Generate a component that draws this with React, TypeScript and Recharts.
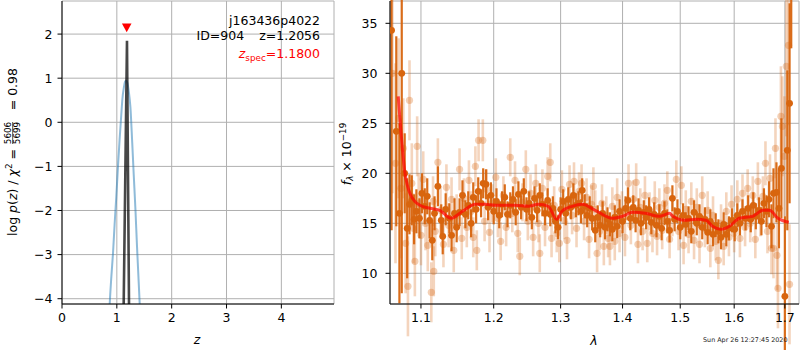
import React from 'react';
import { ComposedChart, Line, Scatter, XAxis, YAxis, CartesianGrid, ErrorBar, ReferenceArea } from 'recharts';

const FONT = 'DejaVu Sans, Verdana, sans-serif';
const ORANGE = '#d8650e';

// ---- left panel: log p(z)
const pzZ = [0.84, 0.87, 0.9, 0.93, 0.96, 0.99, 1.02, 1.05, 1.08, 1.1, 1.13, 1.15, 1.17, 1.19, 1.22, 1.247, 1.28, 1.307, 1.34, 1.368, 1.39, 1.417, 1.44];
const pzLog = [-5.0, -4.12, -3.5, -2.97, -2.3, -1.69, -1.02, -0.4, 0.15, 0.51, 0.8, 0.92, 0.95, 0.9, 0.68, 0.35, -0.45, -1.16, -2.0, -2.82, -3.4, -4.12, -4.8];
const chiZ = [1.118, 1.185, 1.226];
const chiLog = [-4.8, 1.85, -4.8];
const zSpecZ = [1.18];
const zSpecY = [2.14];
const zTicks = [0, 1, 2, 3, 4];
const pzTicks = [-4, -3, -2, -1, 0, 1, 2];

// ---- right panel: spectrum
const lamTicks = [1.1, 1.2, 1.3, 1.4, 1.5, 1.6, 1.7];
const fluxTicks = [10, 15, 20, 25, 30, 35];
const modelLam = [1.0705, 1.0792, 1.0856, 1.0987, 1.1119, 1.125, 1.1405, 1.156, 1.174, 1.188, 1.202, 1.231, 1.251, 1.266, 1.281, 1.294, 1.302, 1.318, 1.334, 1.355, 1.383, 1.4, 1.417, 1.439, 1.463, 1.481, 1.487, 1.508, 1.529, 1.547, 1.559, 1.575, 1.591, 1.61, 1.636, 1.656, 1.669, 1.686, 1.708];
const modelFlux = [27.7, 20.0, 18.0, 16.8, 16.5, 16.3, 15.5, 16.2, 16.9, 16.9, 16.8, 16.8, 16.7, 16.9, 16.7, 15.4, 16.2, 16.7, 16.9, 16.3, 15.5, 15.7, 16.1, 16.0, 15.7, 16.0, 15.7, 15.3, 15.4, 15.3, 14.7, 14.4, 14.7, 15.5, 15.7, 16.3, 16.3, 15.5, 15.1];

// [lambda, flux, error]
const darkSpec: number[][] = [
  [1.062, 34.3, 20], [1.068, 24.2, 9.5], [1.072, 16.0, 9], [1.075, 30.0, 22], [1.0788, 20.0, 4], [1.082, 14.5, 5],
  [1.085, 16.9, 3], [1.088, 17.3, 2.5], [1.091, 15.4, 2.5], [1.094, 16.2, 2.2], [1.098, 15.5, 2], [1.1013, 18.0, 2],
  [1.105, 16.7, 1.8], [1.1083, 17.7, 1.8], [1.1115, 15.3, 1.8], [1.115, 13.3, 2], [1.118, 16.0, 1.7], [1.1225, 18.7, 2],
  [1.127, 15.3, 1.6], [1.129, 13.7, 1.8], [1.133, 16.4, 1.6], [1.138, 15.5, 1.5], [1.141, 13.8, 1.6], [1.145, 16.0, 1.5],
  [1.148, 14.6, 1.5], [1.152, 16.1, 1.4], [1.156, 17.8, 1.5], [1.16, 15.9, 1.4], [1.164, 16.8, 1.4], [1.168, 15.0, 1.4],
  [1.171, 17.6, 1.5], [1.175, 16.4, 1.4], [1.178, 18.2, 1.4], [1.182, 17.0, 1.4], [1.185, 19.0, 1.5], [1.189, 18.9, 1.5],
  [1.192, 16.6, 1.3], [1.196, 17.8, 1.3], [1.2, 16.2, 1.3], [1.204, 17.2, 1.3], [1.208, 15.8, 1.3], [1.212, 16.9, 1.3],
  [1.216, 17.6, 1.3], [1.22, 15.9, 1.3], [1.224, 16.8, 1.3], [1.228, 17.4, 1.3], [1.232, 16.1, 1.3], [1.236, 17.9, 1.3],
  [1.24, 16.6, 1.2], [1.244, 18.2, 1.3], [1.248, 16.4, 1.2], [1.252, 17.0, 1.2], [1.256, 15.6, 1.2], [1.26, 17.5, 1.2],
  [1.264, 16.3, 1.2], [1.268, 17.8, 1.2], [1.272, 16.9, 1.2], [1.276, 16.0, 1.2], [1.28, 17.3, 1.2], [1.284, 15.9, 1.2],
  [1.288, 16.5, 1.2], [1.292, 15.2, 1.2], [1.296, 14.6, 1.2], [1.3, 16.4, 1.2], [1.304, 17.2, 1.2], [1.308, 16.0, 1.2],
  [1.312, 17.4, 1.2], [1.316, 16.6, 1.2], [1.32, 17.8, 1.2], [1.324, 16.8, 1.2], [1.328, 17.0, 1.2], [1.332, 16.2, 1.2],
  [1.334, 18.3, 1.2], [1.338, 16.7, 1.2], [1.342, 15.8, 1.2], [1.346, 16.5, 1.2], [1.35, 15.5, 1.2], [1.355, 14.3, 1.2],
  [1.359, 15.6, 1.2], [1.363, 14.8, 1.2], [1.367, 16.0, 1.2], [1.371, 14.6, 1.2], [1.375, 15.4, 1.2], [1.379, 14.9, 1.2],
  [1.383, 14.4, 1.2], [1.387, 15.6, 1.2], [1.391, 14.7, 1.2], [1.395, 16.2, 1.2], [1.4, 15.2, 1.2], [1.405, 16.5, 1.2],
  [1.409, 17.3, 1.3], [1.413, 15.5, 1.2], [1.418, 16.6, 1.2], [1.422, 15.3, 1.2], [1.427, 16.3, 1.2], [1.431, 15.0, 1.2],
  [1.436, 16.1, 1.2], [1.44, 15.6, 1.2], [1.445, 16.4, 1.2], [1.449, 15.1, 1.2], [1.454, 15.9, 1.2], [1.458, 14.8, 1.2],
  [1.463, 15.7, 1.2], [1.467, 14.5, 1.2], [1.472, 16.0, 1.2], [1.477, 15.2, 1.2], [1.481, 14.3, 1.2], [1.486, 17.5, 1.3],
  [1.49, 15.4, 1.2], [1.495, 16.2, 1.2], [1.5, 14.6, 1.2], [1.505, 15.8, 1.2], [1.51, 14.9, 1.2], [1.515, 15.5, 1.2],
  [1.52, 14.2, 1.2], [1.525, 16.1, 1.2], [1.53, 15.0, 1.2], [1.535, 15.7, 1.2], [1.54, 14.6, 1.2], [1.545, 15.4, 1.2],
  [1.55, 14.1, 1.2], [1.555, 15.2, 1.2], [1.56, 13.9, 1.2], [1.565, 14.8, 1.2], [1.57, 14.2, 1.2], [1.575, 13.6, 1.2],
  [1.58, 14.9, 1.2], [1.585, 13.9, 1.2], [1.59, 14.5, 1.2], [1.596, 15.3, 1.2], [1.601, 14.4, 1.2], [1.606, 15.8, 1.2],
  [1.611, 15.0, 1.2], [1.616, 16.2, 1.2], [1.622, 15.5, 1.2], [1.627, 16.5, 1.3], [1.632, 15.4, 1.3], [1.637, 16.8, 1.3],
  [1.642, 15.7, 1.3], [1.648, 16.3, 1.3], [1.653, 15.2, 1.4], [1.658, 17.0, 1.5], [1.663, 16.2, 1.6], [1.668, 17.4, 1.8],
  [1.673, 14.7, 2.2], [1.677, 18.0, 2.5], [1.683, 18.1, 3], [1.688, 16.5, 4], [1.693, 20.5, 5], [1.7, 7.7, 8],
  [1.705, 22.3, 8], [1.7096, 27.0, 10], [1.713, 38.5, 6],
];

const lightSpec: number[][] = [
  [1.063, 30, 12], [1.067, 21, 10], [1.071, 25.5, 8], [1.074, 18.5, 7], [1.077, 22.5, 5], [1.08, 13.0, 5],
  [1.083, 8.7, 5], [1.085, 27.3, 4], [1.088, 19.0, 4], [1.09, 14.5, 3.5], [1.092, 11.2, 3.5], [1.095, 22.7, 3],
  [1.097, 17.0, 3], [1.1, 13.8, 3], [1.103, 19.4, 2.8], [1.106, 15.0, 2.7], [1.109, 12.8, 2.6], [1.1137, 8.1, 3],
  [1.116, 17.2, 2.5], [1.117, 10.2, 2.5], [1.119, 14.2, 2.5], [1.1225, 21.1, 2.4], [1.126, 16.3, 2.4], [1.13, 12.9, 2.3],
  [1.134, 18.6, 2.3], [1.137, 14.8, 2.2], [1.141, 17.4, 2.2], [1.144, 12.3, 2.2], [1.148, 15.8, 2.1], [1.152, 20.4, 2.1],
  [1.155, 13.5, 2.1], [1.158, 17.5, 2.0], [1.162, 14.6, 2.0], [1.165, 19.3, 2.0], [1.168, 16.2, 2.0], [1.171, 13.6, 2.0],
  [1.174, 20.7, 2.0], [1.176, 12.3, 2.0], [1.1785, 23.3, 2.1], [1.1845, 23.3, 2.1], [1.187, 15.2, 2.0], [1.19, 18.4, 2.0],
  [1.194, 14.1, 2.0], [1.198, 17.0, 1.9], [1.203, 19.6, 1.9], [1.206, 15.5, 1.9], [1.21, 13.2, 1.9], [1.214, 17.8, 1.9],
  [1.218, 14.6, 1.9], [1.224, 21.6, 1.9], [1.227, 16.0, 1.9], [1.231, 19.3, 1.9], [1.235, 14.0, 1.9], [1.238, 11.7, 1.9],
  [1.242, 17.1, 1.9], [1.247, 20.4, 1.9], [1.25, 15.2, 1.9], [1.254, 18.0, 1.9], [1.258, 13.6, 1.9], [1.262, 19.0, 1.9],
  [1.266, 15.0, 1.9], [1.268, 12.0, 1.9], [1.272, 18.5, 1.9], [1.276, 14.6, 1.9], [1.28, 19.7, 1.9], [1.284, 21.1, 1.9],
  [1.286, 13.5, 1.9], [1.29, 16.8, 1.9], [1.294, 14.0, 1.9], [1.298, 13.0, 1.9], [1.302, 18.4, 1.9], [1.306, 15.3, 1.9],
  [1.31, 13.3, 1.9], [1.314, 18.9, 1.9], [1.318, 15.8, 1.9], [1.321, 19.2, 1.9], [1.325, 14.5, 1.9], [1.329, 18.2, 1.9],
  [1.333, 19.0, 1.9], [1.337, 15.2, 1.9], [1.341, 17.6, 1.9], [1.345, 13.4, 1.9], [1.349, 16.9, 1.9], [1.352, 18.7, 1.9],
  [1.355, 16.4, 1.9], [1.358, 12.0, 1.9], [1.362, 14.2, 1.9], [1.366, 17.0, 1.9], [1.369, 12.7, 1.9], [1.373, 15.8, 1.9],
  [1.376, 13.5, 1.9], [1.379, 12.7, 1.9], [1.383, 16.7, 1.9], [1.387, 13.2, 1.9], [1.391, 17.6, 1.9], [1.395, 14.0, 1.9],
  [1.399, 16.3, 1.9], [1.404, 13.6, 1.9], [1.41, 19.0, 1.9], [1.414, 14.8, 1.9], [1.418, 17.4, 1.9], [1.423, 19.1, 1.9],
  [1.426, 12.9, 1.9], [1.43, 16.6, 1.9], [1.434, 14.2, 1.9], [1.438, 17.8, 1.9], [1.442, 13.0, 1.9], [1.446, 16.2, 1.9],
  [1.451, 14.0, 1.9], [1.455, 17.3, 1.9], [1.459, 13.7, 1.9], [1.463, 16.6, 1.9], [1.468, 14.3, 1.9], [1.472, 17.0, 1.9],
  [1.477, 18.3, 1.9], [1.481, 13.4, 1.9], [1.486, 15.6, 1.9], [1.493, 19.4, 1.9], [1.497, 14.2, 1.9], [1.502, 18.8, 1.9],
  [1.506, 12.8, 1.9], [1.51, 16.4, 1.9], [1.515, 13.9, 1.9], [1.52, 17.2, 1.9], [1.525, 13.3, 1.9], [1.53, 16.6, 1.9],
  [1.535, 12.9, 1.9], [1.54, 17.8, 1.9], [1.545, 14.5, 1.9], [1.55, 16.3, 1.9], [1.555, 12.5, 1.9], [1.56, 15.8, 1.9],
  [1.565, 13.2, 1.9], [1.57, 11.3, 1.9], [1.575, 15.0, 1.9], [1.58, 12.7, 1.9], [1.585, 16.2, 1.9], [1.59, 13.6, 1.9],
  [1.595, 16.9, 1.9], [1.6, 14.0, 1.9], [1.606, 17.4, 1.9], [1.611, 13.5, 1.9], [1.616, 18.0, 1.9], [1.621, 14.6, 1.9],
  [1.626, 18.5, 1.9], [1.631, 15.0, 1.9], [1.636, 17.8, 1.9], [1.641, 13.4, 1.9], [1.646, 19.2, 1.9], [1.651, 15.6, 1.9],
  [1.656, 17.7, 2.0], [1.661, 21.0, 2.2], [1.665, 14.2, 2.2], [1.67, 19.5, 2.4], [1.673, 12.5, 2.6], [1.677, 12.5, 3],
  [1.681, 22.5, 3], [1.684, 11.8, 3.5], [1.686, 8.5, 4], [1.692, 25.7, 5], [1.695, 24.7, 5], [1.699, 21.7, 6],
  [1.703, 30.7, 7], [1.7075, 32.8, 8], [1.7095, 8.9, 6],
];

const pzData = pzZ.map((z, i) => ({ z, v: pzLog[i] }));
const chiData = chiZ.map((z, i) => ({ z, v: chiLog[i] }));
const zSpecData = zSpecZ.map((z, i) => ({ z, v: zSpecY[i] }));
const modelData = modelLam.map((lam, i) => ({ lam, f: modelFlux[i] }));
const darkData = darkSpec.map(([lam, f, e]) => ({ lam, f, e }));
const lightData = lightSpec.map(([lam, f, e]) => ({ lam, f, e }));

const tickStyle = { fontSize: 12.5, fill: '#000', fontFamily: FONT };
const minus = (v: number) => (v < 0 ? `\u2212${-v}` : `${v}`);

const circleShape = (r: number, op: number) => (p: any) =>
  p.cx == null ? <g /> : <circle cx={p.cx} cy={p.cy} r={r} fill={ORANGE} fillOpacity={op} />;

const triShape = (p: any) =>
  p.cx == null ? <g /> : (
    <polygon points={`${p.cx - 4.8},${p.cy - 4.3} ${p.cx + 4.8},${p.cy - 4.3} ${p.cx},${p.cy + 4.4}`} fill="#ff0000" />
  );

export default function App() {
  return (
    <div style={{ position: 'absolute', left: 0, top: 0, width: 800, height: 350, background: '#fff' }}>
      <div style={{ position: 'absolute', left: 0, top: 0 }}>
        <ComposedChart width={340} height={350} margin={{ top: 1, right: 6, bottom: 0, left: 0 }}>
          <CartesianGrid stroke="#b0b0b0" strokeWidth={1} />
          <XAxis dataKey="z" type="number" domain={[0, 4.96]} ticks={zTicks} allowDataOverflow
            height={46} tick={tickStyle} tickSize={4.5} tickMargin={5} stroke="#000" tickFormatter={minus} />
          <YAxis dataKey="v" type="number" domain={[-4.12, 2.75]} ticks={pzTicks} allowDataOverflow
            width={62} tick={tickStyle} tickSize={4.5} tickMargin={5} stroke="#000" tickFormatter={minus} />
          <Line data={pzData} dataKey="v" type="monotone" stroke="#1f77b4" strokeOpacity={0.5} strokeWidth={2}
            dot={false} isAnimationActive={false} />
          <Line data={chiData} dataKey="v" type="linear" stroke="#000" strokeOpacity={0.72} strokeWidth={2.6}
            dot={false} isAnimationActive={false} />
          <Scatter data={zSpecData} shape={triShape} isAnimationActive={false} />
          <ReferenceArea fill="none" stroke="#000" strokeWidth={1} fillOpacity={0} />
        </ComposedChart>
      </div>
      <div style={{ position: 'absolute', left: 330, top: 0 }}>
        <ComposedChart width={470} height={350} margin={{ top: 1, right: 1, bottom: 0, left: 0 }}>
          <CartesianGrid stroke="#b0b0b0" strokeWidth={1} />
          <XAxis dataKey="lam" type="number" scale="log" domain={[1.06, 1.729]} ticks={lamTicks} allowDataOverflow
            height={46} tick={tickStyle} tickSize={4.5} tickMargin={5} stroke="#000" tickFormatter={(v: number) => v.toFixed(1)} />
          <YAxis dataKey="f" type="number" domain={[6.93, 37.23]} ticks={fluxTicks} allowDataOverflow
            width={60} tick={tickStyle} tickSize={4.5} tickMargin={8} stroke="#000" />
          <Scatter data={lightData} shape={circleShape(3.6, 0.3)} isAnimationActive={false}>
            <ErrorBar dataKey="e" direction="y" width={0} stroke={ORANGE} strokeWidth={2.6} opacity={0.27} />
          </Scatter>
          <Scatter data={darkData} shape={circleShape(3.4, 1)} isAnimationActive={false}>
            <ErrorBar dataKey="e" direction="y" width={0} stroke={ORANGE} strokeWidth={2.2} opacity={0.95} />
          </Scatter>
          <Line data={modelData} dataKey="f" type="monotone" stroke="#ff0000" strokeOpacity={0.7} strokeWidth={3}
            dot={false} isAnimationActive={false} zIndex={700} />
          <ReferenceArea fill="none" stroke="#000" strokeWidth={1} fillOpacity={0} zIndex={800} />
        </ComposedChart>
      </div>
      <svg width={800} height={350} style={{ position: 'absolute', left: 0, top: 0, pointerEvents: 'none' }}
        fontFamily={FONT}>
        <text x={320} y={24.5} fontSize={12.5} textAnchor="end" fill="#000">j163436p4022</text>
        <text x={196.5} y={40} fontSize={12.5} fill="#000">ID=904</text>
        <text x={320} y={40} fontSize={12.5} textAnchor="end" fill="#000">z=1.2056</text>
        <text x={320} y={58} fontSize={12.5} textAnchor="end" fill="#ff0000">
          <tspan fontStyle="italic">z</tspan>
          <tspan fontSize={8.8} dy={2.6}>spec</tspan>
          <tspan dy={-2.6}>=1.1800</tspan>
        </text>
        <g transform="translate(17,154) rotate(-90)" fill="#000">
          <text x={5} y={0} fontSize={12.5} textAnchor="end">
            log <tspan fontStyle="italic">p</tspan>(<tspan fontStyle="italic">z</tspan>) / <tspan fontStyle="italic">χ</tspan>
            <tspan fontSize={8.8} dy={-5}>2</tspan>
            <tspan dy={5}> =</tspan>
          </text>
          <text x={21} y={-6.3} fontSize={8.8} textAnchor="middle">5606</text>
          <line x1={10} x2={32} y1={-4.3} y2={-4.3} stroke="#000" strokeWidth={0.7} />
          <text x={21} y={2.6} fontSize={8.8} textAnchor="middle">5699</text>
          <text x={86} y={0} fontSize={12.5} textAnchor="end">= 0.98</text>
        </g>
        <text x={197} y={344} fontSize={12.5} fontStyle="italic" textAnchor="middle" fill="#000">z</text>
        <g transform="translate(350.5,154) rotate(-90)" fill="#000">
          <text x={0} y={0} fontSize={12.5} textAnchor="middle">
            <tspan fontStyle="italic">f</tspan>
            <tspan fontSize={8.8} dy={2.6} fontStyle="italic">λ</tspan>
            <tspan dy={-2.6}> × 10</tspan>
            <tspan fontSize={8.8} dy={-5}>−19</tspan>
          </text>
        </g>
        <text x={594} y={345} fontSize={12.5} fontStyle="italic" textAnchor="middle" fill="#000">λ</text>
        <text x={787.5} y={342} fontSize={6.4} textAnchor="end" fill="#222">Sun Apr 26 12:27:45 2020</text>
      </svg>
    </div>
  );
}
